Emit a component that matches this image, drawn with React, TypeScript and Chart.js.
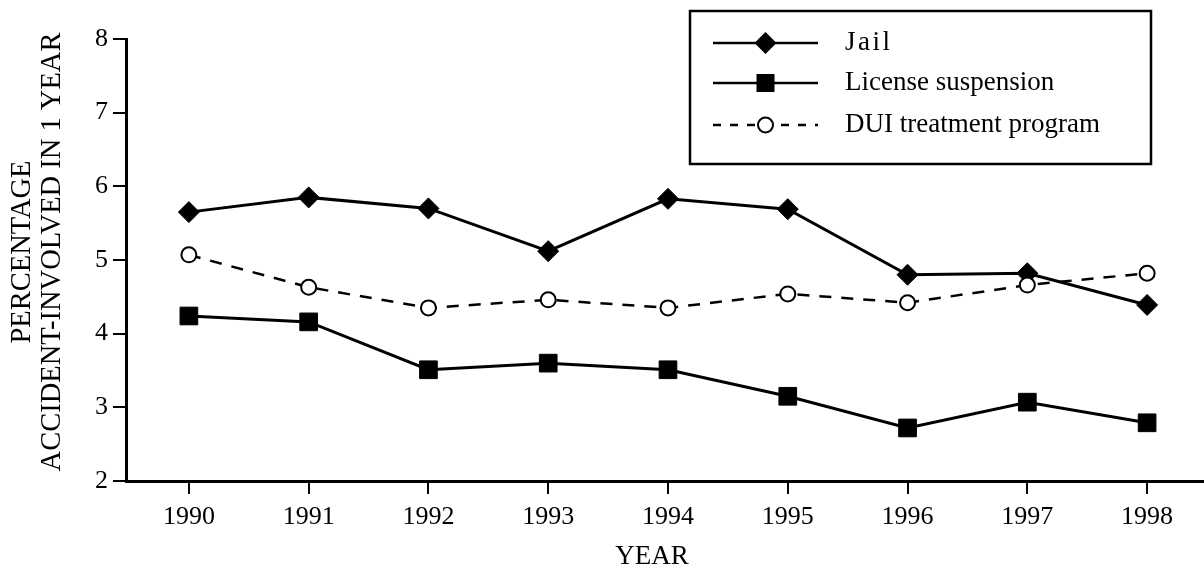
import React, { useEffect, useRef } from "react";
import { Chart, registerables } from "chart.js";

Chart.register(...registerables);

const years = [1990, 1991, 1992, 1993, 1994, 1995, 1996, 1997, 1998];
const jail = [5.65, 5.85, 5.7, 5.12, 5.83, 5.69, 4.8, 4.82, 4.39];
const licenseSuspension = [4.24, 4.16, 3.51, 3.6, 3.51, 3.15, 2.72, 3.07, 2.79];
const duiTreatment = [5.07, 4.63, 4.35, 4.46, 4.35, 4.54, 4.42, 4.66, 4.82];
const yTickValues = [2, 3, 4, 5, 6, 7, 8];
const seriesLabels = ["Jail", "License suspension", "DUI treatment program"];
const yTitleLines = ["PERCENTAGE", "ACCIDENT-INVOLVED IN 1 YEAR"];
const xTitleText = "YEAR";

const FONT = "'Liberation Serif', 'Times New Roman', serif";

function drawMarker(ctx: CanvasRenderingContext2D, style: string, x: number, y: number) {
  ctx.save();
  ctx.beginPath();
  if (style === "rectRot") {
    const r = 11;
    ctx.moveTo(x - r, y);
    ctx.lineTo(x, y - r);
    ctx.lineTo(x + r, y);
    ctx.lineTo(x, y + r);
    ctx.closePath();
    ctx.fillStyle = "#000";
    ctx.fill();
  } else if (style === "rect") {
    const s = 9;
    ctx.rect(x - s, y - s, 2 * s, 2 * s);
    ctx.fillStyle = "#000";
    ctx.fill();
  } else {
    ctx.arc(x, y, 7.5, 0, Math.PI * 2);
    ctx.fillStyle = "#fff";
    ctx.fill();
    ctx.lineWidth = 2;
    ctx.strokeStyle = "#000";
    ctx.stroke();
  }
  ctx.restore();
}

const legendPlugin = {
  id: "boxLegend",
  afterDraw(chart: any) {
    const ctx: CanvasRenderingContext2D = chart.ctx;
    const area = chart.chartArea;
    const right = area.right - 53;
    const left = right - 461;
    const top = area.top - 28;
    const bottom = top + 153;
    ctx.save();
    ctx.lineWidth = 2.5;
    ctx.strokeStyle = "#000";
    ctx.strokeRect(left, top, right - left, bottom - top);
    const styles = ["rectRot", "rect", "circle"];
    const dashes = [[], [], [8, 9]];
    const rowY = [top + 32, top + 72, top + 114];
    const lx1 = left + 23;
    const lx2 = left + 128;
    for (let i = 0; i < seriesLabels.length; i++) {
      const y = rowY[i];
      ctx.save();
      ctx.beginPath();
      ctx.setLineDash(dashes[i]);
      ctx.lineWidth = 2.5;
      ctx.strokeStyle = "#000";
      ctx.moveTo(lx1, y);
      ctx.lineTo(lx2, y);
      ctx.stroke();
      ctx.restore();
      drawMarker(ctx, styles[i], (lx1 + lx2) / 2, y);
      ctx.save();
      ctx.fillStyle = "#000";
      ctx.font = `27px ${FONT}`;
      ctx.textBaseline = "middle";
      ctx.textAlign = "left";
      (ctx as any).letterSpacing = i === 0 ? "2.5px" : "0px";
      ctx.fillText(seriesLabels[i], left + 155, y);
      ctx.restore();
    }
    // x-axis title
    ctx.fillStyle = "#000";
    ctx.font = `27px ${FONT}`;
    ctx.textBaseline = "middle";
    ctx.textAlign = "center";
    const xScale = chart.scales.x;
    ctx.fillText(xTitleText, (area.left + area.right) / 2 - 13, xScale.bottom - 14);
    // y-axis title (two lines, rotated)
    ctx.save();
    ctx.translate(0, (area.top + area.bottom) / 2 - 8);
    ctx.rotate(-Math.PI / 2);
    ctx.font = `28.5px ${FONT}`;
    ctx.textAlign = "center";
    ctx.textBaseline = "middle";
    ctx.fillText(yTitleLines[0], 0, 23);
    ctx.fillText(yTitleLines[1], 0, 53);
    ctx.restore();
    ctx.restore();
  },
};

export default function App() {
  const canvasRef = useRef<HTMLCanvasElement | null>(null);

  useEffect(() => {
    const canvas = canvasRef.current;
    if (!canvas) return;
    const toPoints = (vals: number[]) => vals.map((v, i) => ({ x: years[i], y: v }));
    const chart = new Chart(canvas, {
      type: "line",
      data: {
        datasets: [
          {
            label: seriesLabels[0],
            data: toPoints(jail),
            borderColor: "#000",
            backgroundColor: "#000",
            borderWidth: 3,
            pointStyle: "rectRot",
            pointRadius: 10.5,
            pointBorderWidth: 1,
            pointBackgroundColor: "#000",
            pointBorderColor: "#000",
            tension: 0,
            clip: false,
            order: 1,
          },
          {
            label: seriesLabels[1],
            data: toPoints(licenseSuspension),
            borderColor: "#000",
            backgroundColor: "#000",
            borderWidth: 3,
            pointStyle: "rect",
            pointRadius: 12.5,
            pointBorderWidth: 1,
            pointBackgroundColor: "#000",
            pointBorderColor: "#000",
            tension: 0,
            clip: false,
            order: 2,
          },
          {
            label: seriesLabels[2],
            data: toPoints(duiTreatment),
            borderColor: "#000",
            backgroundColor: "#fff",
            borderWidth: 2.5,
            borderDash: [12, 10],
            pointStyle: "circle",
            pointRadius: 7.5,
            pointBorderWidth: 2,
            pointBackgroundColor: "#fff",
            pointBorderColor: "#000",
            tension: 0,
            clip: false,
            order: 0,
          },
        ],
      },
      options: {
        animation: false,
        responsive: false,
        maintainAspectRatio: false,
        layout: { autoPadding: false, padding: { top: 39, right: 0, bottom: 0, left: 0 } },
        plugins: {
          legend: { display: false },
          tooltip: { enabled: false },
        },
        scales: {
          x: {
            type: "linear",
            min: years[0] - 0.525,
            max: years[years.length - 1] + 0.475,
            afterBuildTicks: (scale: any) => {
              scale.ticks = years.map((v) => ({ value: v }));
            },
            afterFit: (scale: any) => {
              scale.height = 90;
            },
            ticks: {
              includeBounds: false,
              stepSize: 1,
              autoSkip: false,
              maxRotation: 0,
              color: "#000",
              padding: 8,
              font: { family: FONT, size: 26 },
              callback: (v: any) => String(v),
            },
            grid: {
              display: true,
              drawOnChartArea: false,
              drawTicks: true,
              tickLength: 13,
              color: "#000",
              lineWidth: 2,
            },
            border: { display: true, color: "#000", width: 3 },
            title: { display: false },
          },
          y: {
            type: "linear",
            min: yTickValues[0],
            max: yTickValues[yTickValues.length - 1],
            afterBuildTicks: (scale: any) => {
              scale.ticks = yTickValues.map((v) => ({ value: v }));
            },
            afterFit: (scale: any) => {
              scale.width = 126;
            },
            ticks: {
              stepSize: 1,
              color: "#000",
              padding: 5,
              font: { family: FONT, size: 26 },
              callback: (v: any) => String(v),
            },
            grid: {
              display: true,
              drawOnChartArea: false,
              drawTicks: true,
              tickLength: 13,
              color: "#000",
              lineWidth: 2,
            },
            border: { display: true, color: "#000", width: 3 },
            title: { display: false },
          },
        },
      },
      plugins: [legendPlugin],
    } as any);
    return () => chart.destroy();
  }, []);

  return (
    <div style={{ position: "fixed", left: 0, top: 0, width: 1204, height: 571, background: "#fff" }}>
      <canvas ref={canvasRef} width={1204} height={571} style={{ display: "block" }} />
    </div>
  );
}
